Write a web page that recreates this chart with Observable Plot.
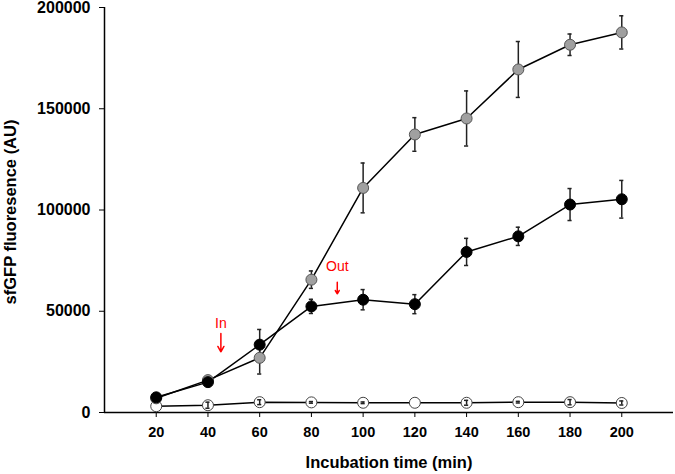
<!DOCTYPE html>
<html>
<head>
<meta charset="utf-8">
<script src="https://cdn.jsdelivr.net/npm/d3@7"></script>
<script src="https://cdn.jsdelivr.net/npm/@observablehq/plot@0.6"></script>
<style>
  html, body { margin: 0; padding: 0; background: white; }
</style>
</head>
<body>
<div id="chart"></div>
<script>
const times = [20, 40, 60, 80, 100, 120, 140, 160, 180, 200];
const grayMean = [7000, 16000, 27000, 65600, 110900, 137300, 145200, 169400, 181600, 187700];
const grayErr  = [800, 1000, 8000, 4300, 12300, 8300, 13600, 13800, 5300, 8200];
const blackMean = [7500, 15000, 33500, 52400, 55700, 53500, 79300, 87000, 102700, 105300];
const blackErr  = [1000, 1200, 7500, 3500, 5000, 4700, 6700, 4500, 7900, 9300];
const openMean = [3100, 3600, 5100, 5000, 4800, 4800, 4800, 5100, 5100, 4700];
const openErr  = [0, 1500, 1200, 400, 400, 0, 1200, 400, 1300, 1000];

const yTicks = [0, 50000, 100000, 150000, 200000];
const xLabel = "Incubation time (min)";
const yLabel = "sfGFP fluoresence (AU)";

const annLabels = ["In", "Out"];
const annX = [45, 90];
const annTextY = [44000, 72200];
const annArrowY1 = [39000, 64300];
const annArrowY2 = [30000, 58600];

const rows = (mean, err) => times.map((t, i) => ({t, v: mean[i], e: err[i]}));
const gray = rows(grayMean, grayErr);
const black = rows(blackMean, blackErr);
const open = rows(openMean, openErr);
const ann = annLabels.map((s, i) => ({s, x: annX[i], ty: annTextY[i], y1: annArrowY1[i], y2: annArrowY2[i]}));

const capHalf = 0.8;
const errMarks = (data, color) => {
  const d2 = data.filter(d => d.e > 0);
  return [
    Plot.ruleX(d2, {x: "t", y1: d => d.v - d.e, y2: d => d.v + d.e, stroke: color, strokeWidth: 1.5}),
    Plot.ruleY(d2, {y: d => d.v + d.e, x1: d => d.t - capHalf, x2: d => d.t + capHalf, stroke: color, strokeWidth: 1.5}),
    Plot.ruleY(d2, {y: d => d.v - d.e, x1: d => d.t - capHalf, x2: d => d.t + capHalf, stroke: color, strokeWidth: 1.5})
  ];
};

const chart = Plot.plot({
  width: 675,
  height: 474,
  marginLeft: 104,
  marginRight: 2,
  marginTop: 7,
  marginBottom: 62,
  x: {domain: [0, 220]},
  y: {domain: [0, 200000]},
  style: {fontFamily: "'Liberation Sans', Arial, sans-serif", color: "black", background: "white"},
  marks: [
    Plot.axisX({ticks: times, tickSize: 5, tickPadding: 9, fontSize: 14.5, fontWeight: "bold", label: null, tickFormat: d => String(d)}),
    Plot.axisY({ticks: yTicks, tickSize: 5, tickPadding: 9, fontSize: 16, fontWeight: "bold", label: null, tickFormat: d => String(d)}),
    Plot.ruleY([0], {stroke: "black", strokeWidth: 1.5}),
    Plot.ruleX([0], {stroke: "black", strokeWidth: 1.5}),
    Plot.text([xLabel], {frameAnchor: "bottom", dy: 50, text: d => d, textAnchor: "middle", lineAnchor: "middle", fontSize: 16.5, fontWeight: "bold", fill: "black"}),
    Plot.text([yLabel], {frameAnchor: "left", dx: -94, dy: 2, rotate: -90, text: d => d, textAnchor: "middle", lineAnchor: "middle", fontSize: 16.5, fontWeight: "bold", fill: "black"}),
    Plot.line(open, {x: "t", y: "v", stroke: "black", strokeWidth: 1.5}),
    Plot.line(gray, {x: "t", y: "v", stroke: "black", strokeWidth: 1.5}),
    Plot.line(black, {x: "t", y: "v", stroke: "black", strokeWidth: 1.5}),
    ...errMarks(gray, "#222"),
    ...errMarks(black, "#222"),
    Plot.dot(open, {x: "t", y: "v", r: 5.5, fill: "white", stroke: "#444", strokeWidth: 1}),
    ...errMarks(open, "#222"),
    Plot.dot(gray, {x: "t", y: "v", r: 5.5, fill: "#a0a0a0", stroke: "#555", strokeWidth: 1}),
    Plot.dot(black, {x: "t", y: "v", r: 5.5, fill: "black", stroke: "black", strokeWidth: 1}),
    Plot.arrow(ann, {x1: "x", x2: "x", y1: "y1", y2: "y2", stroke: "red", strokeWidth: 1.5, headLength: 8}),
    Plot.text(ann, {x: "x", y: "ty", text: "s", fill: "red", fontSize: 14, fontWeight: "normal"})
  ]
});
document.getElementById("chart").appendChild(chart);
</script>
</body>
</html>
